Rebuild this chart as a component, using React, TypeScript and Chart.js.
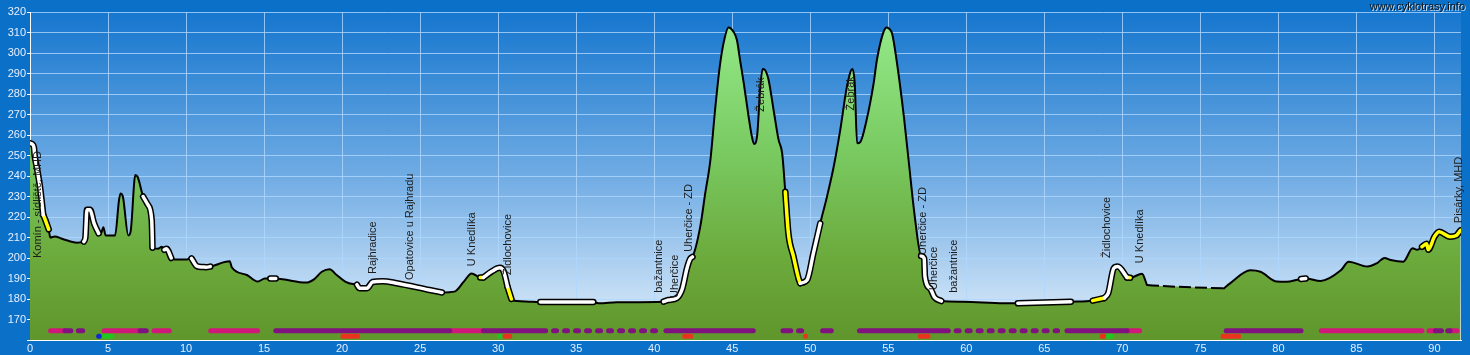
import React, { useEffect, useRef } from 'react';
import { Chart, registerables } from 'chart.js';
Chart.register(...registerables);

// ---- profile (km, elevation m) ----
const profileKm = [
  0.00, 0.15, 0.25, 0.30, 0.43, 0.64, 0.85, 0.96, 1.20, 1.30, 1.60, 2.00, 2.40, 3.00, 3.45, 3.55, 3.65, 3.85, 4.10, 4.40,
  4.55, 4.70, 4.85, 5.45, 5.70, 5.80, 5.95, 6.30, 6.45, 6.75, 6.90, 7.25, 7.55, 7.80, 7.85, 8.20, 8.45, 8.60, 8.75, 9.05,
  9.30, 10.05, 10.35, 10.70, 11.05, 11.30, 11.55, 12.80, 12.93, 13.90, 14.60, 15.05, 15.40, 15.75, 16.20, 17.70, 18.20, 18.70, 19.20, 19.65,
  20.20, 20.70, 20.95, 21.10, 21.60, 21.95, 22.60, 23.50, 25.60, 26.40, 27.20, 27.80, 28.30, 28.85, 29.05, 29.60, 30.10, 30.35, 30.60, 30.85,
  31.20, 32.00, 32.70, 36.10, 36.50, 37.60, 40.60, 40.90, 41.45, 41.80, 42.10, 42.30, 42.45, 42.95, 43.27, 43.60, 43.90, 44.20, 44.44, 44.76,
  45.08, 45.30, 45.50, 45.74, 46.05, 46.26, 46.40, 46.60, 46.80, 46.95, 47.10, 47.33, 47.65, 47.97, 48.20, 48.40, 48.60, 48.93, 49.25, 49.36,
  49.80, 50.20, 50.64, 51.07, 51.50, 51.92, 52.35, 52.70, 52.85, 53.00, 53.20, 53.60, 54.06, 54.27, 54.70, 54.90, 55.10, 55.24, 55.56, 56.00,
  56.30, 56.70, 57.10, 57.30, 57.35, 57.70, 57.95, 58.40, 59.80, 62.40, 63.30, 66.70, 68.10, 68.85, 69.10, 69.45, 69.70, 70.30, 70.50, 71.26,
  71.58, 72.60, 74.40, 76.50, 76.90, 78.20, 78.85, 79.90, 80.50, 81.45, 81.75, 82.70, 84.00, 84.50, 85.70, 86.30, 86.80, 87.20, 88.00, 88.60,
  88.90, 89.20, 89.50, 89.60, 90.00, 90.30, 91.00, 91.40, 91.67,
];
const profileElev = [
  256, 255.5, 254, 250, 244.5, 234.8, 221, 219, 214, 210, 210.5, 209.5, 208.5, 207.5, 208, 210, 223.5, 223.5, 217, 212,
  212, 215, 211, 211, 228, 231.5, 230, 211, 213, 240.5, 239.5, 230, 226, 218.5, 205, 204.5, 205.5, 204, 204.5, 200,
  199.3, 199.3, 199.8, 196, 195.6, 195.5, 195.8, 198.4, 195.5, 191.7, 188.5, 190, 190, 190, 189.6, 188, 189.6, 193.3, 194.5, 191.7,
  188.5, 187.3, 187, 185.3, 185.3, 188.3, 188.7, 187.7, 184.4, 183.2, 183.6, 188.5, 192.5, 190.5, 190.5, 193.5, 195.2, 193.5, 186, 180,
  179, 178.7, 178.5, 178.5, 177.9, 178.4, 178.7, 179.5, 180.5, 185, 195, 199.5, 200.5, 215.3, 231.6, 247.8, 272.2, 293.3, 304.7, 312.5,
  310.4, 306.3, 296.6, 285.2, 268.9, 259.2, 255.6, 260, 283.6, 292.2, 291.7, 286.8, 272.2, 257.6, 251, 232.3, 212, 200.6, 190, 187.7,
  189.3, 202.3, 216.9, 229.9, 244.5, 262.4, 283.6, 292.2, 285, 256, 256.5, 267, 285.2, 296.6, 310.4, 312.5, 311.5, 309.6, 295, 268.9,
  247.8, 220.1, 201, 199.8, 191, 185, 181, 179, 178.7, 177.9, 177.9, 178.7, 179.2, 180.5, 183, 195, 195.8, 190.5, 190.4, 192.3,
  186.8, 186.3, 185.7, 185.2, 187.6, 194, 193.3, 188.5, 188.4, 189.8, 190, 188.8, 194, 198.2, 195.8, 197.4, 200, 199, 198.2, 204.7,
  204, 205.5, 207, 204, 210.4, 212.8, 210.4, 211, 213.5,
];

// stretches of the profile line drawn solid / dashed (km from, km to)
const solidRanges = [[0, 71.58], [76.5, 91.67]];
const dashedRanges = [[71.58, 76.5]];

// highlighted stretches of the profile (km from, km to)
const whiteRanges = [
  [0, 0.85], [3.45, 4.40], [7.25, 7.85], [8.60, 9.05], [10.35, 10.70], [11.05, 11.55], [15.40, 15.75],
  [20.95, 26.40], [29.05, 30.60], [32.70, 36.10], [40.60, 42.45], [49.36, 50.64], [57.10, 58.40],
  [63.30, 66.70], [68.85, 70.30], [81.45, 81.75],
];
const yellowRanges = [
  [0.85, 1.20], [28.85, 29.05], [30.60, 30.85], [48.40, 49.36], [68.10, 68.85], [70.30, 70.50], [89.20, 91.67],
];

// bottom bars (km from, km to)
const magentaBars = [[1.32, 2.24], [4.75, 7.05], [7.95, 8.93], [11.58, 14.59], [26.9, 29.06], [70.3, 71.11], [82.75, 89.2], [89.65, 90.06], [91.0, 91.45]];
const purpleBars = [[2.24, 2.62], [3.1, 3.38], [7.05, 7.45], [15.75, 26.9], [29.06, 33.05], [40.75, 46.35], [48.25, 48.75], [49.25, 49.45], [50.79, 51.35], [53.15, 58.85], [66.45, 70.3], [76.65, 81.45], [90.06, 90.45], [90.85, 91.0]];
const purpleDotted = [[33.55, 40.15], [59.35, 65.85]];
const redBars = [[20.05, 21.0], [30.45, 30.75], [41.95, 42.35], [49.7, 49.71], [57.05, 57.55], [68.7, 68.8], [76.45, 77.45]];
const greenBars = [[4.75, 5.2], [30.1, 30.11], [69.1, 69.3]];
const blueBars = [[4.4, 4.45]];
const upperBarLevel = 164.5;
const lowerBarLevel = 161.8;

// place labels
const labelTexts = ['Komín - sídliště, MHD', 'Rajhradice', 'Opatovice u Rajhradu', 'U Knedlíka', 'Židlochovice', 'bažantnice', 'Uherčice', 'Uherčice - ZD', 'Žebrák', 'Žebrák', 'Uherčice - ZD', 'Uherčice', 'bažantnice', 'Židlochovice', 'U Knedlíka', 'Pisárky, MHD'];
const labelKm = [0.48, 22.0, 24.36, 28.3, 30.6, 40.3, 41.35, 42.2, 46.85, 52.6, 57.25, 57.95, 59.2, 69.0, 71.15, 91.6];
const labelElev = [200, 192.2, 189.3, 196, 191.7, 183, 180.5, 203, 271.4, 272, 201.5, 184.4, 183, 200, 197.5, 217];

const xTicks = [0, 5, 10, 15, 20, 25, 30, 35, 40, 45, 50, 55, 60, 65, 70, 75, 80, 85, 90];
const yTicks = [160, 170, 180, 190, 200, 210, 220, 230, 240, 250, 260, 270, 280, 290, 300, 310, 320];
const watermark = 'www.cyklotrasy.info';

const FONT = '"Liberation Sans", Arial, sans-serif';

function inRanges(x: number, ranges: number[][]) {
  return ranges.some(([a, b]) => x >= a - 1e-9 && x <= b + 1e-9);
}
function rangeData(ranges: number[][]) {
  return profileKm.map((x, i) => ({ x, y: inRanges(x, ranges) ? profileElev[i] : null }));
}
function barData(segs: number[][], level: number) {
  const out: any[] = [];
  segs.forEach(([a, b]) => {
    out.push({ x: a, y: level }, { x: b, y: level }, { x: b, y: null });
  });
  return out;
}

const bgPlugin = {
  id: 'bgPlugin',
  beforeDraw(chart: any) {
    const { ctx, chartArea, width, height } = chart;
    ctx.save();
    ctx.fillStyle = 'rgb(10,112,200)';
    ctx.fillRect(0, 0, width, height);
    if (chartArea) {
      const g = ctx.createLinearGradient(0, chartArea.top, 0, chartArea.bottom);
      g.addColorStop(0, 'rgb(22,118,206)');
      g.addColorStop(0.5, 'rgb(112,172,228)');
      g.addColorStop(1, 'rgb(228,240,251)');
      ctx.fillStyle = g;
      ctx.fillRect(chartArea.left, chartArea.top, chartArea.right - chartArea.left, chartArea.bottom - chartArea.top);
    }
    ctx.restore();
  },
  afterDraw(chart: any) {
    const { ctx } = chart;
    ctx.save();
    ctx.font = `11px ${FONT}`;
    ctx.textAlign = 'right';
    ctx.textBaseline = 'middle';
    ctx.fillStyle = 'rgba(255,255,255,0.75)';
    ctx.fillText(watermark, 1466, 8);
    ctx.fillStyle = '#111';
    ctx.fillText(watermark, 1465, 7);
    ctx.restore();
  },
};

const labelPlugin = {
  id: 'labelPlugin',
  afterDatasetsDraw(chart: any) {
    const { ctx, scales } = chart;
    ctx.save();
    ctx.font = `11px ${FONT}`;
    ctx.fillStyle = '#1c1c1c';
    ctx.textAlign = 'left';
    ctx.textBaseline = 'middle';
    labelTexts.forEach((t, i) => {
      const px = scales.x.getPixelForValue(labelKm[i]);
      const py = scales.y.getPixelForValue(labelElev[i]);
      ctx.save();
      ctx.translate(px, py);
      ctx.rotate(-Math.PI / 2);
      ctx.fillText(t, 0, 0);
      ctx.restore();
    });
    ctx.restore();
  },
};

export default function App() {
  const ref = useRef<HTMLCanvasElement | null>(null);
  useEffect(() => {
    document.body.style.margin = '0';
    const canvas = ref.current;
    if (!canvas) return;
    const profile = profileKm.map((x, i) => ({ x, y: profileElev[i] }));
    const lineBase = { pointRadius: 0, fill: false, tension: 0, spanGaps: false, borderCapStyle: 'round', borderJoinStyle: 'round' };
    const overlay = (ranges: number[][], color: string, width: number, order: number, dash?: number[]) => ({
      ...lineBase, data: rangeData(ranges), borderColor: color, borderWidth: width, order, cubicInterpolationMode: 'monotone',
      borderDash: dash || [], borderCapStyle: dash ? 'butt' : 'round',
    });
    const bar = (segs: number[][], level: number, color: string, order: number, dash?: number[]) => ({
      ...lineBase, data: barData(segs, level), borderColor: color, borderWidth: 5, order, borderDash: dash || [],
    });
    const chart = new Chart(canvas, {
      type: 'line',
      data: {
        datasets: [
          {
            data: profile,
            borderWidth: 0,
            borderColor: 'rgba(0,0,0,0)',
            pointRadius: 0,
            cubicInterpolationMode: 'monotone',
            fill: 'start',
            order: 12,
            backgroundColor: (c: any) => {
              const { chart: ch } = c;
              const area = ch.chartArea;
              if (!area) return 'rgb(115,180,70)';
              const g = ch.ctx.createLinearGradient(0, area.top, 0, area.bottom);
              g.addColorStop(0, 'rgb(150,236,140)');
              g.addColorStop(0.45, 'rgb(120,200,95)');
              g.addColorStop(0.75, 'rgb(108,170,60)');
              g.addColorStop(1, 'rgb(96,150,44)');
              return g;
            },
          } as any,
          overlay(solidRanges, '#000', 2, 10),
          overlay(dashedRanges, '#000', 2, 10, [12, 4]),
          overlay(whiteRanges, '#000', 6.5, 6),
          overlay(yellowRanges, '#000', 6.5, 6),
          overlay(whiteRanges, '#fff', 3.5, 5),
          overlay(yellowRanges, '#ffff00', 3.5, 5),
          bar(purpleBars, upperBarLevel, 'rgb(128,18,128)', 3),
          bar(purpleDotted, upperBarLevel, 'rgb(128,18,128)', 3, [3, 8]),
          bar(magentaBars, upperBarLevel, 'rgb(208,24,122)', 3),
          bar(redBars, lowerBarLevel, 'rgb(232,52,30)', 2),
          bar(greenBars, lowerBarLevel, 'rgb(30,200,30)', 2),
          bar(blueBars, lowerBarLevel, 'rgb(20,40,210)', 2),
        ] as any,
      },
      options: {
        responsive: false,
        animation: false,
        events: [],
        layout: { padding: { top: 12, right: 9, left: 0, bottom: 0 } },
        plugins: { legend: { display: false }, tooltip: { enabled: false } },
        scales: {
          x: {
            type: 'linear',
            min: 0,
            max: 91.7,
            afterBuildTicks: (s: any) => { s.ticks = xTicks.map((v) => ({ value: v })); },
            afterFit: (s: any) => { s.height = 15; },
            ticks: { color: '#e6efff', font: { size: 11, family: FONT }, padding: 2, maxRotation: 0, autoSkip: false },
            grid: { color: 'rgba(175,215,255,0.8)', lineWidth: 1, drawTicks: false },
            border: { color: '#ffffff', width: 1 },
          },
          y: {
            type: 'linear',
            min: 160,
            max: 320,
            afterBuildTicks: (s: any) => { s.ticks = yTicks.map((v) => ({ value: v })); },
            afterFit: (s: any) => { s.width = 30; },
            ticks: {
              color: '#e6efff',
              font: { size: 11, family: FONT },
              padding: 1,
              autoSkip: false,
              callback: (v: any) => (v === 160 ? '' : String(v)),
            },
            grid: { color: 'rgba(175,215,255,0.8)', lineWidth: 1, tickLength: 3, tickColor: '#ffffff' },
            border: { color: '#ffffff', width: 1 },
          },
        },
      } as any,
      plugins: [bgPlugin, labelPlugin],
    });
    return () => chart.destroy();
  }, []);
  return (
    <div style={{ width: 1470, height: 355 }}>
      <canvas ref={ref} width={1470} height={355} style={{ display: 'block' }} />
    </div>
  );
}
